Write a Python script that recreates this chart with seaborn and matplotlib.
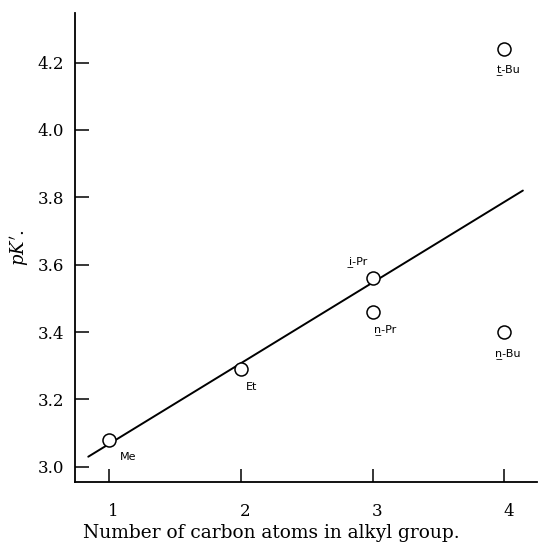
import matplotlib
matplotlib.use("Agg")
import matplotlib.pyplot as plt
import matplotlib.transforms as mtransforms
import seaborn as sns
import pandas as pd

# data
groups = ["Me", "Et", "i-Pr", "n-Pr", "n-Bu", "t-Bu"]
carbons = [1, 2, 3, 3, 4, 4]
pk = [3.08, 3.29, 3.56, 3.46, 3.40, 4.24]
labels = ["Me", "Et", "i\u0332-Pr", "n\u0332-Pr", "n\u0332-Bu", "t\u0332-Bu"]
label_offsets = [(13.7, -12), (7.7, -12.7), (-10.3, 12.2), (8.9, -12.5), (2.4, -15.3), (3.1, -14.4)]
fit_x = [0.84, 4.14]
fit_y = [3.03, 3.82]
xticks = [1, 2, 3, 4]
yticks = [3.0, 3.2, 3.4, 3.6, 3.8, 4.0, 4.2]
ytick_labels = ["3.0", "3.2", "3.4", "3.6", "3.8", "4.0", "4.2"]

sns.set_style("ticks")
plt.rcParams["font.family"] = ["DejaVu Serif"]
plt.rcParams["mathtext.fontset"] = "dejavuserif"
plt.rcParams["text.color"] = "black"
plt.rcParams["axes.labelcolor"] = "black"
plt.rcParams["xtick.color"] = "black"
plt.rcParams["ytick.color"] = "black"

df = pd.DataFrame({"n": carbons, "pk": pk, "group": groups})
fit = pd.DataFrame({"x": fit_x, "y": fit_y})

fig = plt.figure(figsize=(5.38, 5.44), dpi=100)
ax = fig.add_axes([0.1403, 0.1134, 0.8578, 0.8627])

sns.lineplot(data=fit, x="x", y="y", ax=ax, color="black", linewidth=1.4)
sns.scatterplot(data=df, x="n", y="pk", ax=ax, s=88, facecolor="white",
                edgecolor="black", linewidth=1.1, zorder=3)

for xv, yv, lab, off in zip(carbons, pk, labels, label_offsets):
    ax.annotate(lab, (xv, yv), xytext=off, textcoords="offset points",
                ha="center", va="center", fontsize=8, color="black",
                family=["DejaVu Sans"])

ax.set_xlim(0.743, 4.247)
ax.set_ylim(2.954, 4.347)
ax.set_xticks(xticks)
ax.set_yticks(yticks)
ax.set_yticklabels(ytick_labels)
ax.tick_params(axis="x", direction="in", length=9.4, width=1.1, pad=15, labelsize=12)
ax.tick_params(axis="y", direction="in", length=10.3, width=1.1, pad=8, labelsize=12)
for s in ["top", "right"]:
    ax.spines[s].set_visible(False)
for s in ["left", "bottom"]:
    ax.spines[s].set_linewidth(1.3)
    ax.spines[s].set_color("black")

shift = mtransforms.ScaledTranslation(4 / 100, 0, fig.dpi_scale_trans)
for lbl in ax.get_xticklabels():
    lbl.set_transform(lbl.get_transform() + shift)

ax.set_xlabel("Number of carbon atoms in alkyl group.", fontsize=13.4)
ax.xaxis.set_label_coords(0.4236, -0.088)
ax.set_ylabel("$pK'$.", fontsize=13, labelpad=5)

fig.savefig("out.png", dpi=100)
